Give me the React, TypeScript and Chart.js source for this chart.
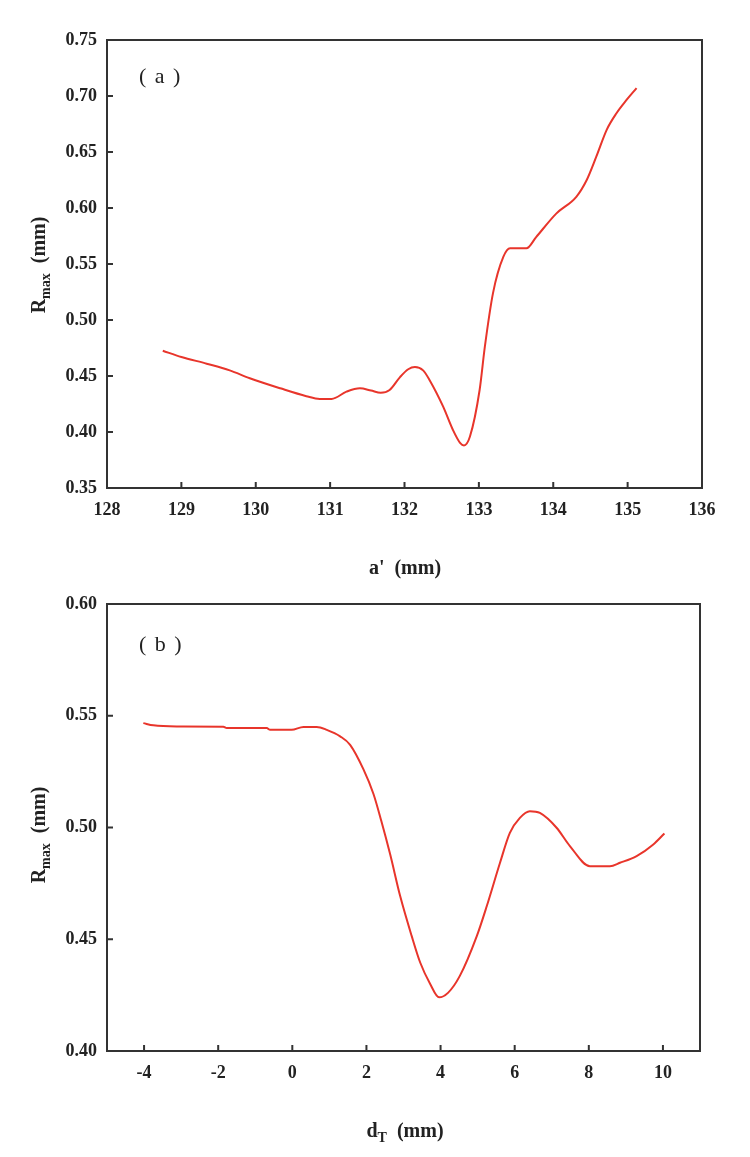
import React, { useEffect, useRef } from "react";
import { Chart, registerables } from "chart.js";

Chart.register(...registerables);

// Panel (a): R_max vs a'
const aX = [128.75, 129.0, 129.34, 129.65, 129.92, 130.33, 130.68, 130.86, 131.02, 131.22, 131.40, 131.55, 131.68, 131.80, 131.94, 132.05, 132.14, 132.25, 132.34, 132.52, 132.65, 132.75, 132.80, 132.88, 133.01, 133.08, 133.19, 133.33, 133.42, 133.64, 133.77, 134.04, 134.31, 134.45, 134.58, 134.72, 134.85, 134.98, 135.12];
const aY = [0.4726, 0.467, 0.461, 0.455, 0.448, 0.439, 0.432, 0.4295, 0.4295, 0.436, 0.439, 0.437, 0.435, 0.4375, 0.449, 0.456, 0.458, 0.455, 0.446, 0.4226, 0.402, 0.390, 0.388, 0.396, 0.4375, 0.476, 0.524, 0.5565, 0.564, 0.564, 0.574, 0.595, 0.610, 0.625, 0.646, 0.670, 0.6846, 0.696, 0.707];
const aXTicks = [128, 129, 130, 131, 132, 133, 134, 135, 136];
const aYTicks = [0.35, 0.40, 0.45, 0.50, 0.55, 0.60, 0.65, 0.70, 0.75];

// Panel (b): R_max vs d_T
const dX = [-4.02, -3.75, -3.12, -1.86, -1.77, -0.69, -0.60, -0.02, 0.30, 0.66, 0.93, 1.29, 1.56, 1.92, 2.19, 2.40, 2.64, 2.91, 3.22, 3.45, 3.72, 3.96, 4.2, 4.52, 4.98, 5.25, 5.60, 5.87, 6.14, 6.41, 6.68, 7.13, 7.49, 8.03, 8.57, 8.84, 9.29, 9.74, 10.04];
const dY = [0.5467, 0.5457, 0.5452, 0.5451, 0.5445, 0.5445, 0.5437, 0.5437, 0.545, 0.545, 0.5437, 0.5408, 0.537, 0.526, 0.515, 0.503, 0.488, 0.4693, 0.4515, 0.4396, 0.430, 0.424, 0.426, 0.4336, 0.4515, 0.465, 0.484, 0.4976, 0.5043, 0.5073, 0.5065, 0.4999, 0.4917, 0.4827, 0.4827, 0.4842, 0.4872, 0.4924, 0.4973];
const dXTicks = [-4, -2, 0, 2, 4, 6, 8, 10];
const dYTicks = [0.40, 0.45, 0.50, 0.55, 0.60];

const SERIF = '"Liberation Serif", "Times New Roman", serif';
const LINE = "#e8352b";
const FRAME = "#333333";

type Cfg = {
  xs: number[];
  ys: number[];
  xTicks: number[];
  yTicks: number[];
  xMin: number;
  xMax: number;
  yMin: number;
  yMax: number;
  height: number;
  padTop: number;
  padRight: number;
  xAxisH: number;
  panel: string;
  panelPos: [number, number];
  xMain: string;
  xSub: string;
  xTitlePos: [number, number];
  yTitlePos: [number, number];
};

function makePlugin(c: Cfg) {
  return {
    id: "frameDecor",
    afterDraw(chart: any) {
      const { ctx, chartArea: a, scales } = chart;
      ctx.save();
      // frame
      ctx.strokeStyle = FRAME;
      ctx.lineWidth = 2;
      ctx.strokeRect(a.left, a.top, a.right - a.left, a.bottom - a.top);
      // inward ticks
      const xs = scales.x;
      const ys = scales.y;
      ctx.beginPath();
      xs.ticks.forEach((t: any) => {
        const px = xs.getPixelForValue(t.value);
        if (px > a.left + 2 && px < a.right - 2) {
          ctx.moveTo(px, a.bottom);
          ctx.lineTo(px, a.bottom - 6);
        }
      });
      ys.ticks.forEach((t: any) => {
        const py = ys.getPixelForValue(t.value);
        if (py > a.top - 1 && py < a.bottom - 2) {
          ctx.moveTo(a.left, py);
          ctx.lineTo(a.left + 6, py);
        }
      });
      ctx.stroke();

      // panel label
      ctx.fillStyle = "#222";
      ctx.font = `22px ${SERIF}`;
      ctx.textAlign = "left";
      ctx.textBaseline = "middle";
      const parts = c.panel.split("");
      let px0 = c.panelPos[0];
      parts.forEach((ch) => {
        ctx.fillText(ch, px0, c.panelPos[1]);
        px0 += ctx.measureText(ch).width + 1.5;
      });

      // x title
      const big = `bold 20px ${SERIF}`;
      const small = `bold 14px ${SERIF}`;
      const rest = "  (mm)";
      ctx.textBaseline = "alphabetic";
      ctx.font = big;
      const w1 = ctx.measureText(c.xMain).width;
      const w3 = ctx.measureText(rest).width;
      ctx.font = small;
      const w2 = c.xSub ? ctx.measureText(c.xSub).width : 0;
      let x0 = c.xTitlePos[0] - (w1 + w2 + w3) / 2;
      const yb = c.xTitlePos[1] + 7;
      ctx.font = big;
      ctx.fillText(c.xMain, x0, yb);
      x0 += w1;
      if (c.xSub) {
        ctx.font = small;
        ctx.fillText(c.xSub, x0, yb + 5);
        x0 += w2;
      }
      ctx.font = big;
      ctx.fillText(rest, x0, yb);

      // y title: R_max (mm)
      ctx.save();
      ctx.translate(c.yTitlePos[0], c.yTitlePos[1]);
      ctx.rotate(-Math.PI / 2);
      ctx.font = big;
      const r1 = ctx.measureText("R").width;
      const r3 = ctx.measureText(rest).width;
      ctx.font = small;
      const r2 = ctx.measureText("max").width;
      let t0 = -(r1 + r2 + r3) / 2;
      ctx.font = big;
      ctx.fillText("R", t0, 7);
      t0 += r1;
      ctx.font = small;
      ctx.fillText("max", t0, 12);
      t0 += r2;
      ctx.font = big;
      ctx.fillText(rest, t0, 7);
      ctx.restore();

      ctx.restore();
    },
  };
}

function Panel({ c, top }: { c: Cfg; top: number }) {
  const ref = useRef<HTMLCanvasElement>(null);
  useEffect(() => {
    if (!ref.current) return;
    const chart = new Chart(ref.current, {
      type: "line",
      data: {
        datasets: [
          {
            data: c.xs.map((x, i) => ({ x, y: c.ys[i] })),
            borderColor: LINE,
            borderWidth: 2,
            pointRadius: 0,
            fill: false,
            cubicInterpolationMode: "monotone",
          },
        ],
      },
      options: {
        animation: false,
        responsive: false,
        devicePixelRatio: 1,
        layout: { padding: { top: c.padTop, right: c.padRight, left: 0, bottom: 0 } },
        plugins: { legend: { display: false }, tooltip: { enabled: false } },
        scales: {
          x: {
            type: "linear",
            min: c.xMin,
            max: c.xMax,
            afterBuildTicks: (s: any) => {
              s.ticks = c.xTicks.map((v) => ({ value: v }));
            },
            afterFit: (s: any) => {
              s.height = c.xAxisH;
            },
            grid: { display: false, drawTicks: false },
            border: { display: false },
            ticks: {
              padding: 12,
              maxRotation: 0,
              autoSkip: false,
              color: "#222",
              font: { family: SERIF, size: 18, weight: "bold" },
              callback: (v: any) => String(v),
            },
          },
          y: {
            type: "linear",
            min: c.yMin,
            max: c.yMax,
            afterBuildTicks: (s: any) => {
              s.ticks = c.yTicks.map((v) => ({ value: v }));
            },
            afterFit: (s: any) => {
              s.width = 107;
            },
            grid: { display: false, drawTicks: false },
            border: { display: false },
            ticks: {
              padding: 10,
              autoSkip: false,
              color: "#222",
              font: { family: SERIF, size: 18, weight: "bold" },
              callback: (v: any) => Number(v).toFixed(2),
            },
          },
        },
      },
      plugins: [makePlugin(c)],
    } as any);
    return () => chart.destroy();
  }, []);
  return (
    <canvas
      ref={ref}
      width={750}
      height={c.height}
      style={{ position: "absolute", left: 0, top, width: 750, height: c.height, display: "block" }}
    />
  );
}

const cfgA: Cfg = {
  xs: aX,
  ys: aY,
  xTicks: aXTicks,
  yTicks: aYTicks,
  xMin: 128,
  xMax: 136,
  yMin: 0.35,
  yMax: 0.75,
  height: 580,
  padTop: 40,
  padRight: 48,
  xAxisH: 92,
  panel: "( a )",
  panelPos: [139, 77],
  xMain: "a'",
  xSub: "",
  xTitlePos: [405, 567],
  yTitlePos: [38, 265],
};

const cfgB: Cfg = {
  xs: dX,
  ys: dY,
  xTicks: dXTicks,
  yTicks: dYTicks,
  xMin: -5,
  xMax: 11,
  yMin: 0.4,
  yMax: 0.6,
  height: 577,
  padTop: 24,
  padRight: 50,
  xAxisH: 106,
  panel: "( b )",
  panelPos: [139, 65],
  xMain: "d",
  xSub: "T",
  xTitlePos: [405, 550],
  yTitlePos: [38, 255],
};

export default function App() {
  useEffect(() => {
    document.body.style.margin = "0";
  }, []);
  return (
    <div style={{ position: "relative", width: 750, height: 1157, background: "#fff" }}>
      <Panel c={cfgA} top={0} />
      <Panel c={cfgB} top={580} />
    </div>
  );
}
